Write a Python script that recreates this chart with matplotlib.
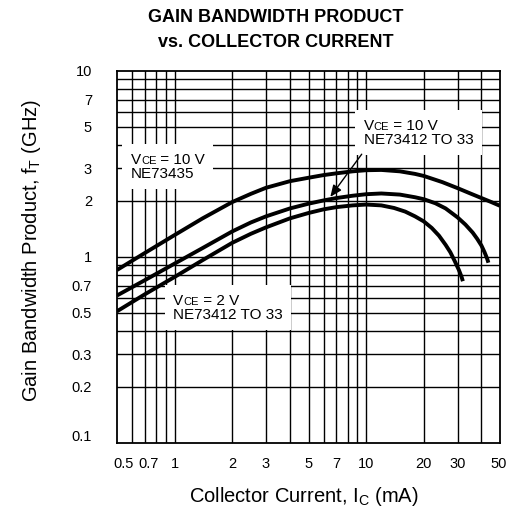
import matplotlib
matplotlib.use("Agg")
import matplotlib.pyplot as plt
from matplotlib.offsetbox import TextArea, HPacker, VPacker, AnnotationBbox

plt.rcParams['font.family'] = 'Liberation Sans'

# collector current (mA) and fT (GHz) for each curve
ic_ne73435 = [0.5, 0.7, 1.0, 1.4, 2.0, 2.5, 3.0, 4.0, 5.0, 6.0, 7.0, 8.5, 10,
              12, 15, 18, 20, 25, 30, 35, 40, 45, 50]
ft_ne73435 = [0.85, 1.05, 1.31, 1.61, 1.97, 2.18, 2.35, 2.55, 2.66, 2.75, 2.81, 2.88, 2.92,
              2.93, 2.88, 2.79, 2.72, 2.52, 2.34, 2.19, 2.07, 1.97, 1.88]

ic_ne73412_10v = [0.5, 0.7, 1.0, 1.4, 2.0, 2.5, 3.0, 4.0, 5.0, 6.0, 7.0, 8.5, 10,
                  12, 15, 18, 20, 23, 26, 30, 33, 36, 38, 40, 41.5, 42.8, 43.5]
ft_ne73412_10v = [0.62, 0.75, 0.92, 1.115, 1.37, 1.53, 1.65, 1.82, 1.93, 2.01, 2.07, 2.13, 2.17,
                  2.19, 2.16, 2.09, 2.04, 1.94, 1.82, 1.63, 1.49, 1.35, 1.25, 1.15, 1.06, 0.98, 0.93]

ic_ne73412_2v = [0.5, 0.7, 1.0, 1.4, 2.0, 2.5, 3.0, 4.0, 5.0, 6.0, 7.0, 8.5, 10,
                 12, 14, 16, 18, 20, 22, 24, 26, 27.5, 29, 30.5, 31.5, 32]
ft_ne73412_2v = [0.51, 0.63, 0.78, 0.96, 1.19, 1.33, 1.44, 1.61, 1.72, 1.80, 1.85, 1.89, 1.91,
                 1.89, 1.83, 1.75, 1.65, 1.55, 1.43, 1.30, 1.16, 1.06, 0.95, 0.85, 0.78, 0.74]

x_grid = [0.6, 0.7, 0.8, 0.9, 1, 2, 3, 4, 5, 6, 7, 8, 9, 10, 20, 30, 40]
y_grid = [0.2, 0.3, 0.4, 0.5, 0.6, 0.7, 0.8, 0.9, 1, 2, 3, 4, 5, 6, 7, 8, 9]

x_tick_pos = [0.54, 0.73, 1, 2, 3, 5, 7, 10, 20, 30, 49]
x_tick_lab = ["0.5", "0.7", "1", "2", "3", "5", "7", "10", "20", "30", "50"]
y_tick_pos = [0.11, 0.2, 0.3, 0.5, 0.7, 1, 2, 3, 5, 7, 10]
y_tick_lab = ["0.1", "0.2", "0.3", "0.5", "0.7", "1", "2", "3", "5", "7", "10"]

fig = plt.figure(figsize=(5.07, 5.25), dpi=100)
ax = fig.add_axes([117/507, 82/525, 383/507, 372.3/525])
ax.set_xscale('log')
ax.set_yscale('log')
ax.set_xlim(0.5, 50)
ax.set_ylim(0.1, 10)

ax.set_xticks(x_tick_pos, x_tick_lab)
ax.set_yticks(y_tick_pos, y_tick_lab)
ax.minorticks_off()
ax.tick_params(which='both', length=0)
ax.tick_params(axis='x', pad=10, labelsize=10.5)
ax.tick_params(axis='y', pad=18, labelsize=10.5)
for s in ax.spines.values():
    s.set_linewidth(1.3)

# log grid
for gx in x_grid:
    ax.axvline(gx, color='black', lw=1.0, zorder=1)
for gy in y_grid:
    ax.axhline(gy, color='black', lw=1.0, zorder=1)

ax.plot(ic_ne73435, ft_ne73435, color='black', lw=2.8, zorder=4, solid_capstyle='butt')
ax.plot(ic_ne73412_10v, ft_ne73412_10v, color='black', lw=2.8, zorder=4, solid_capstyle='butt')
ax.plot(ic_ne73412_2v, ft_ne73412_2v, color='black', lw=2.8, zorder=4, solid_capstyle='butt')


def vce_label(volts, part, xy):
    big = dict(size=11, family='Liberation Sans')
    small = dict(size=8, family='Liberation Sans')
    line1 = HPacker(children=[TextArea("V", textprops=big),
                              TextArea("CE", textprops=small),
                              TextArea(" = %s V" % volts, textprops=big)],
                    align="baseline", pad=0, sep=0)
    line2 = TextArea(part, textprops=big)
    box = VPacker(children=[line1, line2], align="left", pad=0, sep=0)
    ab = AnnotationBbox(box, xy, xycoords='data', box_alignment=(0, 1),
                        frameon=True, pad=0.6,
                        bboxprops=dict(fc='white', ec='none'))
    ab.set_zorder(3)
    ax.add_artist(ab)


vce_label(10, "NE73435", (0.59, 3.63))
vce_label(10, "NE73412 TO 33", (9.7, 5.53))
vce_label(2, "NE73412 TO 33", (0.98, 0.633))

ax.annotate("", xy=(6.5, 2.1), xytext=(9.48, 3.56),
            arrowprops=dict(arrowstyle='-|>,head_length=0.7,head_width=0.3',
                            color='black', lw=1.0, shrinkA=0, shrinkB=0),
            zorder=5)

fig.text(276/507, 1 - 30/525, "GAIN BANDWIDTH PRODUCT\nvs. COLLECTOR CURRENT",
         ha='center', va='center', fontsize=13, fontweight='bold', linespacing=1.55)
fig.text(304/507, 1 - 497/525, r"Collector Current, I$_\mathregular{C}$ (mA)",
         ha='center', va='center', fontsize=14.5)
fig.text(32/507, 1 - 250/525, r"Gain Bandwidth Product, f$_\mathregular{T}$ (GHz)",
         ha='center', va='center', fontsize=14.5, rotation=90)

fig.savefig("out.png", dpi=100)
